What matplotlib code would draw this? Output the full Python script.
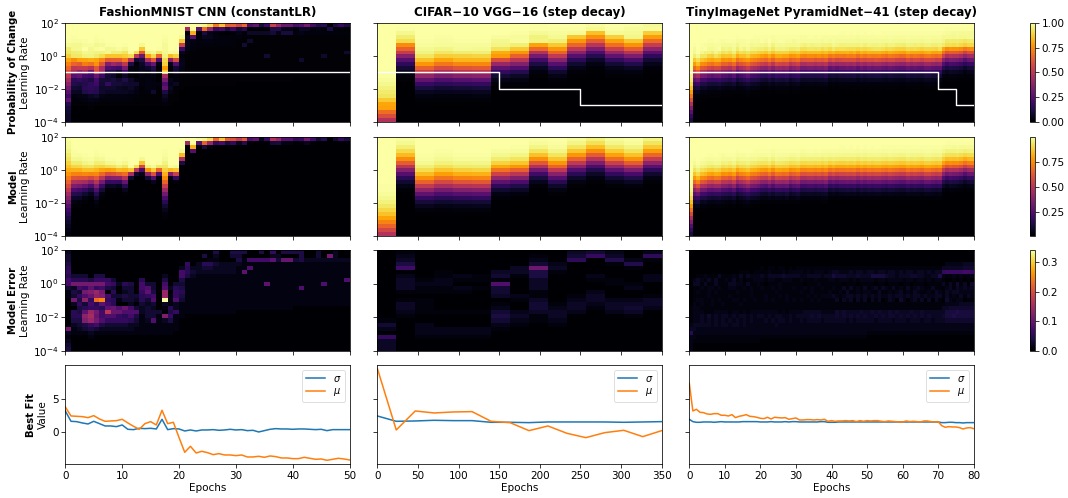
import math
import numpy as np
import matplotlib
matplotlib.use("Agg")
import matplotlib.pyplot as plt
from matplotlib.colors import Normalize
from matplotlib.cm import ScalarMappable
from matplotlib.ticker import LogFormatterMathtext, FixedLocator, NullLocator

titles = ["FashionMNIST CNN (constantLR)", "CIFAR\u221210 VGG\u221216 (step decay)", "TinyImageNet PyramidNet\u221241 (step decay)"]
row_bold = ["Probability of Change", "Model", "Model Error", "Best Fit"]
epoch_max = [50, 350, 80]
epoch_ticks = [[0, 10, 20, 30, 40, 50], [0, 50, 100, 150, 200, 250, 300, 350], [0, 10, 20, 30, 40, 50, 60, 70, 80]]

fashion_mu = [3.8, 2.45, 2.4, 2.35, 2.2, 2.5, 2.0, 1.65, 1.7, 1.75,
              1.95, 1.4, 0.9, 0.45, 1.3, 1.6, 1.1, 3.3, 1.3, 1.5,
              -0.8, -3.0, -2.1, -3.1, -2.85, -3.05, -3.35, -3.2, -3.4, -3.4,
              -3.5, -3.4, -3.7, -3.7, -3.6, -3.75, -3.55, -3.65, -3.85, -3.85,
              -3.95, -3.95, -3.75, -3.9, -4.05, -4.0, -4.2, -4.05, -3.9, -4.0, -4.15]
fashion_sigma = [3.2, 1.65, 1.6, 1.4, 1.25, 1.65, 1.3, 0.95, 0.95, 0.85,
                 1.1, 0.45, 0.4, 0.6, 0.55, 0.6, 0.5, 1.95, 0.4, 0.55,
                 0.5, 0.2, 0.35, 0.2, 0.35, 0.35, 0.4, 0.3, 0.35, 0.45,
                 0.35, 0.4, 0.25, 0.3, 0.05, 0.25, 0.45, 0.55, 0.5, 0.5,
                 0.45, 0.5, 0.5, 0.45, 0.4, 0.45, 0.25, 0.4, 0.4, 0.4, 0.4]
cifar_mu = [9.6, 0.35, 3.2, 2.9, 3.05, 3.1, 1.65, 1.45, 0.25, 0.95, -0.15, -0.8, -0.05, 0.3, -0.65, 0.25]
cifar_sigma = [2.45, 1.65, 1.7, 1.8, 1.75, 1.75, 1.5, 1.5, 1.45, 1.55, 1.55, 1.55, 1.55, 1.5, 1.55, 1.6]
tiny_mu = [7.35, 3.2, 3.45, 3.0, 2.95, 2.75, 2.7, 2.8, 2.8, 2.55,
           2.55, 2.45, 2.65, 2.2, 2.4, 2.5, 2.65, 2.4, 2.35, 2.25,
           2.1, 2.05, 2.25, 2.0, 2.25, 2.2, 2.15, 2.2, 1.95, 2.05,
           2.15, 1.85, 1.85, 1.9, 1.9, 1.85, 1.9, 1.85, 1.95, 1.65,
           1.75, 1.65, 1.7, 1.7, 1.75, 1.7, 1.75, 1.6, 1.75, 1.65,
           1.75, 1.7, 1.75, 1.75, 1.65, 1.6, 1.7, 1.65, 1.6, 1.55,
           1.55, 1.7, 1.6, 1.65, 1.6, 1.55, 1.7, 1.7, 1.6, 1.55,
           1.6, 1.0, 0.75, 0.85, 0.8, 0.8, 0.7, 0.5, 0.65, 0.7, 0.55]
tiny_sigma = [1.95, 1.6, 1.5, 1.5, 1.55, 1.55, 1.55, 1.5, 1.55, 1.6,
              1.55, 1.55, 1.55, 1.55, 1.55, 1.6, 1.6, 1.6, 1.6, 1.6,
              1.55, 1.55, 1.55, 1.6, 1.55, 1.55, 1.55, 1.6, 1.55, 1.6,
              1.6, 1.55, 1.55, 1.55, 1.55, 1.55, 1.55, 1.6, 1.6, 1.5,
              1.5, 1.5, 1.55, 1.55, 1.55, 1.55, 1.55, 1.55, 1.55, 1.55,
              1.55, 1.55, 1.55, 1.55, 1.55, 1.55, 1.55, 1.55, 1.55, 1.55,
              1.55, 1.55, 1.55, 1.55, 1.55, 1.55, 1.55, 1.55, 1.55, 1.55,
              1.55, 1.45, 1.45, 1.5, 1.5, 1.45, 1.45, 1.4, 1.45, 1.45, 1.45]

lr_epochs = [[0, 50], [0, 150, 250, 350], [0, 70, 75, 80]]
lr_values = [[0.1, 0.1], [0.1, 0.01, 0.001, 0.001], [0.1, 0.01, 0.001, 0.001]]

# Model error read from the third row: one character per cell, base 36, in units of error_units.
error_units = [0.01, 0.0075, 0.007]
# Sign of the change relative to the model on the low-probability side.
low_side_sign = [1, 0, 0]
fashion_error_rows = [
    "2000000000 0000000000 0000004004 4400406044 4400300200",
    "3000000000 0000000000 0000402003 3000002200 040030b200",
    "3000000000 0000000000 0000011000 41777793aa 3422222222",
    "4000000000 0000000000 0602553222 2111111111 1111111111",
    "5000000000 0000000000 2522332222 1181111111 1111111111",
    "6000000000 0000000000 7532222222 1911111111 1111111111",
    "5333044000 0000000200 7421111111 1111111111 1111111111",
    "7555466630 0005000400 4111111111 1111111111 1111111118",
    "7bbbbbb762 5407330703 3111111111 1111191111 1111181111",
    "3276967430 3307830825 4111111111 1111111111 1811111111",
    "143bceb050 2306940e06 5111111111 1111111111 1111111111",
    "1368adc733 4335670e16 4111111111 1111111111 1111111111",
    "0b4d6np651 3325380y18 3111111111 1111111111 1111111111",
    "0263759750 0203230212 1111111111 1111111111 1111111111",
    "00456659a8 a732320152 1111111111 1111111111 0000000000",
    "0549eb7haa 8882333046 1111111111 0000000000 0000000000",
    "055dfa7886 5741331c61 1000000000 0000000000 0000000000",
    "044ceb8666 6531281241 0000000000 0000000000 0000000000",
    "0234674333 3221111111 0000000000 0000000000 0000000000",
    "b123432222 2211111111 0000000000 0000000000 0000000000",
    "2111211111 1111111110 0000000000 0000000000 0000000000",
    "1000100000 0000000000 0000000000 0000000000 0000000000",
    "2000000000 0000000000 0000000000 0000000000 0000000000",
    "3000000000 0000000000 0000000000 0000000000 0000000000",
    "4000000000 0000000000 0000000000 0000000000 0000000000",
]
cifar_error_cols = [
    "0000000000000000014208333",
    "1235902333101332100000000",
    "0000000121101111002221000",
    "0000011221100001000221000",
    "0000002102100001000221000",
    "0000001101000001000221000",
    "00000341b4430124542100000",
    "0000331000021002321000000",
    "0124e55333113443110000000",
    "0002310000000123321000000",
    "3470000000012332000000000",
    "4800002100233210000000000",
    "2361000110002332000000000",
    "0026100012002343100000000",
    "2710002200013320000000000",
]
tiny_error_rows = [
    "0000000000" * 8,
    "0000000000" * 8,
    "0000000000" * 8,
    "0000000000" * 7 + "0022222333",
    "0000000000 0000000000 1011011010 1111111111 1111111111 1111111111 1111111111 1333333444",
    "0000000000 0000111011 1121112122 2212122212 3322232332 3323323323 2332332323 3899999aa9",
    "0011211131 1121313222 3233334333 3223333233 5444333433 3555543323 3344332233 6211212112",
    "0232131311 2131201122 2122112221 1211121112 2122212122 2212212222 1221221212 2100101010",
    "0331311311 1332213112 1011121111 1101112111 1110111011 1101101110 1101110111 1313141304",
    "0112122121 1221121211 2112121112 1121211211 2113131213 1231321312 1312321131 1123132323",
    "0121121211 1112111211 1111211111 1211211112 1121311212 2113112123 1213211213 2132332222",
    "0111121111 1211111211 1211121211 1112121222 3212332323 2323223233 2323323223 3131213132",
    "0122112121 1122121121 1212111212 1211212111 1303230313 0313013204 2023130303 1042122011",
    "0212112112 1111211111 1111111111 1111111111 1111111111 1111111111 1111111111 1122223333",
    "1221111111 1111111111 1111111111 1111111111 1111111111 1111111111 1111111111 1334444444",
    "1222111222 2122121222 2222212122 2233333222 2434333343 3434334343 3343343333 3355565555",
    "1223242323 3232332323 3232332232 3333434333 3434343434 3343434434 3434343433 3455655555",
    "1223232323 2323232322 2323233232 2323333233 3333232333 3323333233 3233323323 3344444444",
    "2333332323 3233232222 2222322222 2222222222 2222222222 2222222222 2222222222 2222222222",
    "3322222222 2222222222 2222222222 2222222222 2222222222 2222222222 2222222222 2222222222",
    "7222222222 2222222222 2222222222 2222222222 2222222222 1111111111 1111111111 1111111111",
    "2211111111 1111111111 1111111111 1111111111 1111111111 0000000000 0000000000 0000000000",
    "2111111111 1111111111 0000000000 0000000000 0000000000 0000000000 0000000000 0000000000",
    "2000000000 0000000000 0000000000 0000000000 0000000000 0000000000 0000000000 0000000000",
    "2000000000 0000000000 0000000000 0000000000 0000000000 0000000000 0000000000 0000000000",
]
n_lr_rows = 25


def parse_rows(rows, unit):
    rows = [r.replace(" ", "") for r in rows]
    return np.array([[int(c, 36) * unit for c in r] for r in rows])[::-1]


fashion_error = parse_rows(fashion_error_rows, error_units[0])
cifar_error = parse_rows(["".join(col[i] for col in cifar_error_cols) for i in range(n_lr_rows)], error_units[1])
tiny_error = parse_rows(tiny_error_rows, error_units[2])

mus = [fashion_mu, cifar_mu, tiny_mu]
sigmas = [fashion_sigma, cifar_sigma, tiny_sigma]
errors = [fashion_error, cifar_error, tiny_error]

LOG_EDGES = np.linspace(-4, 2, n_lr_rows + 1)
LOG_CENTRES = 0.5 * (LOG_EDGES[:-1] + LOG_EDGES[1:])
GRID_SHIFT = 0.35  # decades between the drawn rows and the fit's learning rate
phi = np.vectorize(lambda z: 0.5 * (1 + math.erf(z / math.sqrt(2))))


def model_table(mu, sigma, ncols):
    m = np.array(mu[:ncols])[None, :]
    s = np.array(sigma[:ncols])[None, :]
    x = (LOG_CENTRES[:, None] - GRID_SHIFT) * math.log(10)
    return phi((x + m) / s)


W, H = 1068, 498
fig = plt.figure(figsize=(W / 100, H / 100), dpi=100)
plt.rcParams["mathtext.default"] = "it"
FS = 7.5
LW = 0.55


def pixel_axes(x0, y0, x1, y1):
    return fig.add_axes([x0 / W, 1 - y1 / H, (x1 - x0) / W, (y1 - y0) / H])


col_x = [(65.3, 349.7), (377.3, 661.7), (689.3, 973.7)]
row_y = [(22.7, 122), (136.7, 236), (250, 350.7), (365.3, 464.3)]
cbar_x = (1030, 1035.3)
norms = [Normalize(0, 1), Normalize(0.007, 1), Normalize(0, 0.342)]
cbar_ticks = [[0, 0.25, 0.5, 0.75, 1.0], [0.25, 0.5, 0.75], [0, 0.1, 0.2, 0.3]]
cbar_fmt = ["%.2f", "%.2f", "%.1f"]


def style(ax):
    for s in ax.spines.values():
        s.set_linewidth(LW)
    ax.tick_params(labelsize=FS, length=2.6, width=LW, pad=2)


axes = {}
for c in range(3):
    ncols = len(errors[c][0])
    xedges = np.linspace(0, epoch_max[c], ncols + 1)
    yedges = 10.0 ** LOG_EDGES
    model = model_table(mus[c], sigmas[c], ncols)
    err = errors[c]
    prob = np.clip(model + np.where(model > 0.5, 1, low_side_sign[c]) * err, 0, 1)
    tables = [prob, model, err]
    for r in range(3):
        ax = pixel_axes(col_x[c][0], row_y[r][0], col_x[c][1], row_y[r][1])
        ax.pcolormesh(xedges, yedges, tables[r], cmap="inferno", norm=norms[r], shading="flat", rasterized=True, linewidth=0)
        ax.set_yscale("log")
        ax.set_ylim(1e-4, 1e2)
        ax.set_xlim(0, epoch_max[c])
        ax.yaxis.set_major_locator(FixedLocator([1e-4, 1e-2, 1, 1e2]))
        ax.yaxis.set_minor_locator(NullLocator())
        ax.yaxis.set_major_formatter(LogFormatterMathtext())
        ax.set_xticks(epoch_ticks[c])
        ax.set_xticklabels([])
        if c > 0:
            ax.set_yticklabels([])
        style(ax)
        if r == 0:
            ax.set_title(titles[c], fontsize=8.6, fontweight="bold", pad=4.5)
            ax.plot(lr_epochs[c], lr_values[c], color="white", lw=1.0, drawstyle="steps-post")
        axes[(r, c)] = ax

    ax = pixel_axes(col_x[c][0], row_y[3][0], col_x[c][1], row_y[3][1])
    ep = np.linspace(0, epoch_max[c], len(mus[c]))
    ax.plot(ep, sigmas[c], color="tab:blue", lw=1.1, label=r"$\sigma$")
    ax.plot(ep, mus[c], color="tab:orange", lw=1.1, label=r"$\mu$")
    ax.set_xlim(0, epoch_max[c])
    ax.set_ylim(-4.8, 10.05)
    ax.set_yticks([0, 5])
    ax.set_xticks(epoch_ticks[c])
    if c > 0:
        ax.set_yticklabels([])
    ax.set_xlabel("Epochs", fontsize=FS, labelpad=2)
    style(ax)
    leg = ax.legend(loc="upper right", fontsize=7, borderaxespad=0.45, handlelength=2.0, labelspacing=0.3, borderpad=0.4)
    leg.get_frame().set_linewidth(LW)
    axes[(3, c)] = ax

for r in range(4):
    yc = 1 - 0.5 * (row_y[r][0] + row_y[r][1]) / H
    fig.text((13 if r < 3 else 31) / W, yc, row_bold[r], rotation=90, ha="center", va="center", fontsize=7.3, fontweight="bold")
    fig.text((25.5 if r < 3 else 42.5) / W, yc, "Learning Rate" if r < 3 else "Value", rotation=90, ha="center", va="center", fontsize=FS)

for r in range(3):
    cax = pixel_axes(cbar_x[0], row_y[r][0], cbar_x[1], row_y[r][1])
    sm = ScalarMappable(norm=norms[r], cmap="inferno")
    cb = fig.colorbar(sm, cax=cax, ticks=cbar_ticks[r], format=cbar_fmt[r])
    cb.outline.set_linewidth(LW)
    cax.tick_params(labelsize=FS, length=2.6, width=LW, pad=2)

fig.savefig("out.png", dpi=100)
